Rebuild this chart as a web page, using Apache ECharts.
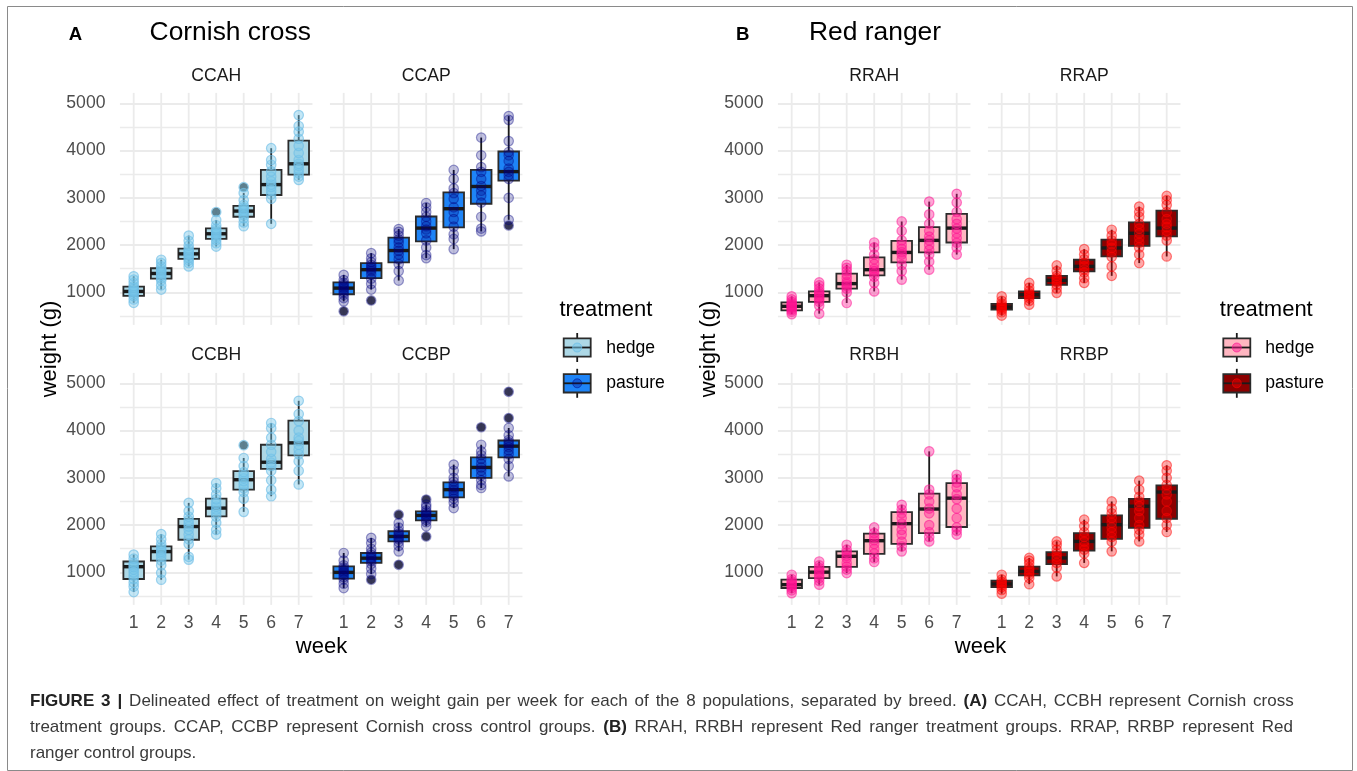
<!DOCTYPE html>
<html>
<head>
<meta charset="utf-8">
<script src="https://cdn.jsdelivr.net/npm/echarts@6/dist/echarts.min.js"></script>
<style>
  html, body { margin: 0; padding: 0; background: #ffffff; }
  #chart { width: 1357px; height: 771px; }
</style>
</head>
<body>
<div id="chart"></div>
<script>
// Week categories shared by every facet
const weeks = ['1', '2', '3', '4', '5', '6', '7'];

// Box statistics per week: [lower whisker, Q1, median, Q3, upper whisker] (g)
// Outliers: [week, weight]; points: individual bird weights per week

// ---- Cornish cross ----
const ccahBox = [
  [780, 925, 1020, 1120, 1340],
  [1060, 1290, 1400, 1510, 1690],
  [1550, 1710, 1815, 1925, 2200],
  [1970, 2130, 2240, 2355, 2530],
  [2400, 2600, 2720, 2830, 3100],
  [2450, 3060, 3280, 3590, 4050],
  [3380, 3490, 3720, 4210, 4750]
];
const ccahOut = [[4, 2700], [5, 3225]];
const ccahPts = [
  [780, 850, 920, 960, 1000, 1020, 1050, 1090, 1130, 1200, 1270, 1340],
  [1060, 1150, 1250, 1300, 1350, 1390, 1420, 1460, 1500, 1550, 1620, 1690],
  [1550, 1620, 1680, 1730, 1780, 1810, 1840, 1880, 1920, 1990, 2090, 2200],
  [1970, 2040, 2110, 2160, 2200, 2240, 2270, 2310, 2350, 2420, 2530, 2700],
  [2400, 2480, 2570, 2630, 2680, 2720, 2760, 2800, 2850, 2950, 3100, 3225],
  [2450, 2980, 3070, 3150, 3230, 3280, 3350, 3450, 3560, 3700, 3800, 4050],
  [3380, 3450, 3520, 3600, 3680, 3720, 3800, 3950, 4100, 4250, 4400, 4520, 4750]
];

const ccapBox = [
  [810, 960, 1090, 1210, 1370],
  [1060, 1300, 1480, 1620, 1830],
  [1250, 1635, 1885, 2160, 2340],
  [1725, 2080, 2360, 2605, 2890],
  [1915, 2375, 2770, 3115, 3590],
  [2290, 2875, 3240, 3590, 4275],
  [2535, 3365, 3555, 3980, 4730]
];
const ccapOut = [[1, 600], [2, 830], [7, 2415]];
const ccapPts = [
  [600, 810, 880, 950, 1000, 1050, 1090, 1120, 1160, 1200, 1260, 1370],
  [830, 1060, 1180, 1290, 1380, 1450, 1490, 1530, 1580, 1640, 1720, 1830],
  [1250, 1450, 1600, 1700, 1800, 1880, 1950, 2050, 2120, 2200, 2280, 2340],
  [1725, 1790, 1950, 2100, 2250, 2330, 2400, 2500, 2600, 2700, 2800, 2890],
  [1915, 2130, 2230, 2390, 2550, 2700, 2800, 2980, 3100, 3200, 3400, 3590],
  [2290, 2350, 2600, 2900, 3050, 3150, 3250, 3400, 3550, 3650, 3900, 4275],
  [2415, 2535, 3000, 3400, 3480, 3550, 3620, 3780, 3900, 3970, 4200, 4650, 4730]
];

const ccbhBox = [
  [584, 860, 1120, 1230, 1375],
  [845, 1250, 1440, 1550, 1810],
  [1270, 1690, 1970, 2130, 2470],
  [1800, 2185, 2360, 2560, 2890],
  [2280, 2750, 2960, 3140, 3420],
  [2610, 3190, 3330, 3700, 4160],
  [2860, 3475, 3740, 4210, 4630]
];
const ccbhOut = [[5, 3690]];
const ccbhPts = [
  [584, 700, 780, 860, 930, 1000, 1060, 1110, 1150, 1200, 1290, 1375],
  [845, 990, 1150, 1250, 1330, 1400, 1440, 1480, 1530, 1600, 1700, 1810],
  [1270, 1330, 1600, 1700, 1800, 1900, 1970, 2030, 2100, 2180, 2300, 2470],
  [1800, 1900, 2050, 2180, 2260, 2330, 2390, 2460, 2550, 2650, 2780, 2890],
  [2280, 2560, 2700, 2780, 2860, 2930, 2990, 3050, 3120, 3250, 3420, 3690],
  [2610, 2750, 2950, 3150, 3250, 3320, 3400, 3550, 3700, 3850, 4050, 4160],
  [2860, 3150, 3350, 3500, 3600, 3700, 3780, 3850, 4000, 4200, 4350, 4630]
];

const ccbpBox = [
  [668, 866, 1000, 1127, 1410],
  [965, 1200, 1300, 1410, 1730],
  [1445, 1655, 1760, 1870, 2045],
  [1975, 2100, 2205, 2290, 2435],
  [2360, 2585, 2750, 2905, 3280],
  [2785, 3000, 3220, 3435, 3700],
  [3030, 3435, 3670, 3790, 4055]
];
const ccbpOut = [[2, 845], [3, 2220], [3, 1160], [4, 2540], [4, 1760], [6, 4070], [7, 4265], [7, 4820]];
const ccbpPts = [
  [668, 760, 850, 900, 950, 990, 1020, 1060, 1100, 1150, 1250, 1410],
  [845, 965, 1080, 1180, 1240, 1290, 1320, 1370, 1420, 1500, 1620, 1730],
  [1160, 1445, 1560, 1640, 1700, 1740, 1780, 1820, 1870, 1950, 2045, 2220],
  [1760, 1975, 2060, 2110, 2160, 2200, 2230, 2270, 2310, 2380, 2435, 2540],
  [2360, 2480, 2560, 2620, 2690, 2740, 2790, 2850, 2920, 3000, 3150, 3280],
  [2785, 2850, 2950, 3050, 3150, 3220, 3300, 3400, 3480, 3560, 3700, 4070],
  [3030, 3250, 3400, 3500, 3580, 3650, 3700, 3750, 3800, 3900, 4055, 4265, 4820]
];

// ---- Red ranger ----
const rrahBox = [
  [540, 620, 705, 790, 915],
  [550, 800, 930, 1020, 1210],
  [775, 1080, 1185, 1395, 1585],
  [1020, 1360, 1480, 1740, 2055],
  [1270, 1635, 1845, 2090, 2500],
  [1480, 1845, 2100, 2380, 2920],
  [1800, 2055, 2360, 2660, 3085]
];
const rrahOut = [];
const rrahPts = [
  [540, 590, 630, 660, 690, 710, 730, 760, 800, 850, 915],
  [550, 720, 800, 850, 900, 940, 980, 1020, 1080, 1150, 1210],
  [775, 1000, 1080, 1130, 1180, 1220, 1300, 1380, 1450, 1520, 1585],
  [1020, 1200, 1330, 1400, 1450, 1500, 1600, 1700, 1800, 1950, 2055],
  [1270, 1450, 1580, 1700, 1800, 1850, 1920, 2000, 2100, 2300, 2500],
  [1480, 1650, 1800, 1900, 2000, 2100, 2180, 2300, 2450, 2650, 2920],
  [1800, 1950, 2050, 2150, 2250, 2350, 2450, 2550, 2700, 2900, 3085]
];

const rrapBox = [
  [510, 635, 690, 755, 915],
  [740, 880, 950, 1020, 1200],
  [990, 1160, 1255, 1350, 1570],
  [1200, 1445, 1550, 1690, 1915],
  [1350, 1760, 1940, 2115, 2325],
  [1620, 1985, 2250, 2480, 2815],
  [1760, 2185, 2360, 2730, 3040]
];
const rrapOut = [];
const rrapPts = [
  [510, 580, 630, 660, 690, 720, 760, 820, 915],
  [740, 820, 880, 920, 950, 980, 1030, 1100, 1200],
  [990, 1080, 1160, 1220, 1260, 1300, 1350, 1450, 1570],
  [1200, 1300, 1420, 1480, 1550, 1620, 1700, 1800, 1915],
  [1350, 1550, 1750, 1850, 1940, 2020, 2100, 2200, 2325],
  [1620, 1800, 1950, 2050, 2150, 2250, 2350, 2450, 2600, 2700, 2815],
  [1760, 2100, 2200, 2300, 2380, 2450, 2550, 2700, 2850, 2950, 3040]
];

const rrbhBox = [
  [560, 670, 740, 845, 950],
  [740, 880, 1005, 1115, 1230],
  [985, 1115, 1340, 1445, 1585],
  [1220, 1390, 1670, 1820, 1950],
  [1445, 1605, 2030, 2275, 2430],
  [1655, 1830, 2340, 2665, 3560],
  [1800, 1960, 2570, 2890, 3065]
];
const rrbhOut = [];
const rrbhPts = [
  [560, 620, 670, 710, 740, 770, 810, 860, 950],
  [740, 820, 880, 940, 1000, 1040, 1090, 1150, 1230],
  [985, 1060, 1120, 1200, 1300, 1350, 1420, 1480, 1585],
  [1220, 1300, 1400, 1500, 1600, 1680, 1750, 1830, 1950],
  [1445, 1550, 1650, 1800, 1900, 2030, 2150, 2250, 2330, 2430],
  [1655, 1750, 1850, 2000, 2250, 2350, 2500, 2650, 2750, 3560],
  [1800, 1880, 1950, 2150, 2350, 2550, 2650, 2800, 2900, 2980, 3065]
];

const rrbpBox = [
  [550, 690, 755, 825, 950],
  [750, 935, 1020, 1120, 1305],
  [915, 1175, 1305, 1430, 1655],
  [1200, 1460, 1655, 1830, 2115],
  [1445, 1710, 2010, 2205, 2500],
  [1655, 1940, 2400, 2555, 2940],
  [1855, 2135, 2700, 2840, 3265]
];
const rrbpOut = [];
const rrbpPts = [
  [550, 630, 690, 730, 760, 800, 850, 950],
  [750, 880, 950, 1000, 1050, 1100, 1180, 1250, 1305],
  [915, 1100, 1200, 1280, 1330, 1400, 1480, 1580, 1655],
  [1200, 1400, 1480, 1560, 1650, 1750, 1850, 1980, 2115],
  [1445, 1650, 1750, 1850, 1950, 2050, 2150, 2250, 2350, 2500],
  [1655, 1800, 1900, 2000, 2150, 2300, 2400, 2500, 2600, 2750, 2940],
  [1855, 2000, 2150, 2300, 2500, 2650, 2750, 2850, 3000, 3150, 3265]
];

// ---- styling ----
const FONT = '"Liberation Sans", Arial, Helvetica, sans-serif';
const GRID_LINE = '#ebebeb';
const Y_MIN = 312, Y_MAX = 5220;
const GRID_W = 192.5, GRID_H = 232;
const ROW_TOP = [92.9, 372.9];
const COL_LEFT = [119.95, 329.95, 777.95, 987.95];

const palette = {
  ccHedge:   { fill: '#ADD8E6', pt: 'rgba(120,200,235,0.55)', ptLine: 'rgba(110,190,230,0.8)' },
  ccPasture: { fill: '#1E84F7', pt: 'rgba(0,0,128,0.30)',     ptLine: 'rgba(0,0,128,0.48)' },
  rrHedge:   { fill: '#FFB6C1', pt: 'rgba(255,20,147,0.48)',  ptLine: 'rgba(255,20,147,0.65)' },
  rrPasture: { fill: '#8B0000', pt: 'rgba(255,0,0,0.42)',     ptLine: 'rgba(255,0,0,0.6)' }
};

const panels = [
  { name: 'CCAH', box: ccahBox, out: ccahOut, pts: ccahPts, col: palette.ccHedge,   left: COL_LEFT[0], top: ROW_TOP[0], showY: true,  showX: false },
  { name: 'CCAP', box: ccapBox, out: ccapOut, pts: ccapPts, col: palette.ccPasture, left: COL_LEFT[1], top: ROW_TOP[0], showY: false, showX: false },
  { name: 'CCBH', box: ccbhBox, out: ccbhOut, pts: ccbhPts, col: palette.ccHedge,   left: COL_LEFT[0], top: ROW_TOP[1], showY: true,  showX: true },
  { name: 'CCBP', box: ccbpBox, out: ccbpOut, pts: ccbpPts, col: palette.ccPasture, left: COL_LEFT[1], top: ROW_TOP[1], showY: false, showX: true },
  { name: 'RRAH', box: rrahBox, out: rrahOut, pts: rrahPts, col: palette.rrHedge,   left: COL_LEFT[2], top: ROW_TOP[0], showY: true,  showX: false },
  { name: 'RRAP', box: rrapBox, out: rrapOut, pts: rrapPts, col: palette.rrPasture, left: COL_LEFT[3], top: ROW_TOP[0], showY: false, showX: false },
  { name: 'RRBH', box: rrbhBox, out: rrbhOut, pts: rrbhPts, col: palette.rrHedge,   left: COL_LEFT[2], top: ROW_TOP[1], showY: true,  showX: true },
  { name: 'RRBP', box: rrbpBox, out: rrbpOut, pts: rrbpPts, col: palette.rrPasture, left: COL_LEFT[3], top: ROW_TOP[1], showY: false, showX: true }
];

// vertical grid line at each week
function renderWeekLine(params, api) {
  const x = api.coord([api.value(0), Y_MIN])[0];
  const cs = params.coordSys;
  return {
    type: 'line',
    shape: { x1: x, y1: cs.y, x2: x, y2: cs.y + cs.height },
    style: { stroke: GRID_LINE, lineWidth: 1.8 }
  };
}

// ggplot-style box: plain whiskers, filled box, heavy median bar
function makeBoxRenderer(fill) {
  return function (params, api) {
    const i = api.value(0);
    const lo = api.coord([i, api.value(1)]);
    const q1 = api.coord([i, api.value(2)]);
    const md = api.coord([i, api.value(3)]);
    const q3 = api.coord([i, api.value(4)]);
    const hi = api.coord([i, api.value(5)]);
    const half = api.size([1, 0])[0] * 0.375;
    const cx = lo[0];
    return {
      type: 'group',
      children: [
        { type: 'line', shape: { x1: cx, y1: hi[1], x2: cx, y2: q3[1] }, style: { stroke: '#1a1a1a', lineWidth: 1.8 } },
        { type: 'line', shape: { x1: cx, y1: q1[1], x2: cx, y2: lo[1] }, style: { stroke: '#1a1a1a', lineWidth: 1.8 } },
        { type: 'rect', shape: { x: cx - half, y: q3[1], width: half * 2, height: q1[1] - q3[1] },
          style: { fill: fill, stroke: '#2b2b2b', lineWidth: 1.8 } },
        { type: 'line', shape: { x1: cx - half, y1: md[1], x2: cx + half, y2: md[1] }, style: { stroke: '#1a1a1a', lineWidth: 3.4 } }
      ]
    };
  };
}

const grids = [], xAxes = [], yAxes = [], series = [];

panels.forEach(function (p, k) {
  grids.push({ left: p.left, top: p.top, width: GRID_W, height: GRID_H });
  xAxes.push({
    type: 'category', gridIndex: k, data: weeks, boundaryGap: true,
    axisLine: { show: false }, axisTick: { show: false }, splitLine: { show: false },
    axisLabel: { show: p.showX, margin: 9, fontSize: 17.6, color: '#4d4d4d', fontFamily: FONT }
  });
  yAxes.push({
    type: 'value', gridIndex: k, min: Y_MIN, max: Y_MAX,
    axisLine: { show: false }, axisTick: { show: false },
    axisLabel: { show: p.showY, showMinLabel: false, showMaxLabel: false, margin: 14.5,
      fontSize: 17.6, color: '#4d4d4d', fontFamily: FONT,
      formatter: function (v) { return String(v); } },
    splitLine: { show: true, showMinLine: false, showMaxLine: false, lineStyle: { color: GRID_LINE, width: 1.8 } },
    minorTick: { show: false, splitNumber: 2 },
    minorSplitLine: { show: true, lineStyle: { color: GRID_LINE, width: 1.4 } }
  });

  series.push({
    type: 'custom', xAxisIndex: k, yAxisIndex: k, z: 1, silent: true,
    renderItem: renderWeekLine,
    encode: { x: 0, y: 1 },
    data: weeks.map(function (w, i) { return [i, Y_MIN]; })
  });
  series.push({
    type: 'custom', name: p.name, xAxisIndex: k, yAxisIndex: k, z: 2, silent: true,
    renderItem: makeBoxRenderer(p.col.fill),
    encode: { x: 0, y: [1, 2, 3, 4, 5] },
    data: p.box.map(function (b, i) { return [i].concat(b); })
  });
  series.push({
    type: 'scatter', xAxisIndex: k, yAxisIndex: k, z: 3, silent: true,
    symbol: 'circle', symbolSize: 8.5,
    itemStyle: { color: '#1c1c1c' },
    data: p.out.map(function (o) { return [o[0] - 1, o[1]]; })
  });
  const pts = [];
  p.pts.forEach(function (arr, i) { arr.forEach(function (v) { pts.push([i, v]); }); });
  series.push({
    type: 'scatter', xAxisIndex: k, yAxisIndex: k, z: 4, silent: true,
    symbol: 'circle', symbolSize: 9.5,
    itemStyle: { color: p.col.pt, borderColor: p.col.ptLine, borderWidth: 1.2 },
    data: pts
  });
});

// ---- annotations: titles, facet strips, axis titles, legends, caption ----
function txt(x, y, text, size, opts) {
  opts = opts || {};
  return {
    type: 'text', x: x, y: y, rotation: opts.rotation || 0, silent: true,
    style: {
      text: text, fontSize: size, fontFamily: FONT, fontWeight: opts.weight || 'normal',
      fill: opts.color || '#000000', textAlign: opts.align || 'center', textVerticalAlign: 'middle',
      rich: opts.rich
    }
  };
}

function legendKey(x, yc, col) {
  const cx = x + 13.5;
  return {
    type: 'group', silent: true,
    children: [
      { type: 'line', shape: { x1: cx, y1: yc - 14.5, x2: cx, y2: yc + 14.5 }, style: { stroke: '#1a1a1a', lineWidth: 1.8 } },
      { type: 'rect', shape: { x: x, y: yc - 9.2, width: 27, height: 18.4 }, style: { fill: col.fill, stroke: '#2b2b2b', lineWidth: 1.8 } },
      { type: 'line', shape: { x1: x, y1: yc, x2: x + 27, y2: yc }, style: { stroke: '#1a1a1a', lineWidth: 1.8 } },
      { type: 'circle', shape: { cx: cx, cy: yc, r: 4.5 }, style: { fill: col.pt, stroke: col.ptLine, lineWidth: 1 } }
    ]
  };
}

const stripColor = '#1a1a1a';
const graphics = [
  { type: 'rect', silent: true, shape: { x: 7.5, y: 6.5, width: 1345, height: 764 },
    style: { fill: 'none', stroke: '#8a8a8a', lineWidth: 1 } },

  txt(75.5, 35, 'A', 18.6, { weight: 'bold' }),
  txt(149.6, 32.8, 'Cornish cross', 26.4, { align: 'left' }),
  txt(742.8, 35, 'B', 18.6, { weight: 'bold' }),
  txt(809, 32.8, 'Red ranger', 26.4, { align: 'left' }),

  txt(COL_LEFT[0] + GRID_W / 2, 76.3, 'CCAH', 17.6, { color: stripColor }),
  txt(COL_LEFT[1] + GRID_W / 2, 76.3, 'CCAP', 17.6, { color: stripColor }),
  txt(COL_LEFT[0] + GRID_W / 2, 355.5, 'CCBH', 17.6, { color: stripColor }),
  txt(COL_LEFT[1] + GRID_W / 2, 355.5, 'CCBP', 17.6, { color: stripColor }),
  txt(COL_LEFT[2] + GRID_W / 2, 76.3, 'RRAH', 17.6, { color: stripColor }),
  txt(COL_LEFT[3] + GRID_W / 2, 76.3, 'RRAP', 17.6, { color: stripColor }),
  txt(COL_LEFT[2] + GRID_W / 2, 355.5, 'RRBH', 17.6, { color: stripColor }),
  txt(COL_LEFT[3] + GRID_W / 2, 355.5, 'RRBP', 17.6, { color: stripColor }),

  txt(50, 349, 'weight (g)', 22, { rotation: Math.PI / 2 }),
  txt(709, 349, 'weight (g)', 22, { rotation: Math.PI / 2 }),
  txt(321.5, 647, 'week', 22),
  txt(980.5, 647, 'week', 22),

  txt(559.4, 310, 'treatment', 22, { align: 'left' }),
  legendKey(563.7, 347.5, palette.ccHedge),
  legendKey(563.7, 383.3, palette.ccPasture),
  txt(606.2, 348, 'hedge', 17.6, { align: 'left' }),
  txt(606.2, 383.5, 'pasture', 17.6, { align: 'left' }),

  txt(1219.8, 310, 'treatment', 22, { align: 'left' }),
  legendKey(1223.3, 347.5, palette.rrHedge),
  legendKey(1223.3, 383.3, palette.rrPasture),
  txt(1265.3, 348, 'hedge', 17.6, { align: 'left' }),
  txt(1265.3, 383.5, 'pasture', 17.6, { align: 'left' })
];

// Caption: justified paragraph; bold (b) and normal (n) runs, word gaps widened
// per line (s1, s2) so the full lines span the column; the last line is ragged.
const capRich = {
  b: { fontWeight: 'bold', fontSize: 17, fontFamily: FONT, fill: '#222222' },
  n: { fontSize: 17, fontFamily: FONT, fill: '#3a3a3a' },
  s1: { fontSize: 24.8, fontFamily: FONT, fill: '#3a3a3a' },
  s2: { fontSize: 27.6, fontFamily: FONT, fill: '#3a3a3a' },
  s3: { fontSize: 17, fontFamily: FONT, fill: '#3a3a3a' }
};
const captionLines = [
  [['b', 'FIGURE 3 |'], ['n', ' Delineated effect of treatment on weight gain per week for each of the 8 populations, separated by breed. '], ['b', '(A)'], ['n', ' CCAH, CCBH represent Cornish cross']],
  [['n', 'treatment groups. CCAP, CCBP represent Cornish cross control groups. '], ['b', '(B)'], ['n', ' RRAH, RRBH represent Red ranger treatment groups. RRAP, RRBP represent Red']],
  [['n', 'ranger control groups.']]
];
function richLine(segs, gap) {
  return segs.map(function (seg) {
    return seg[1].split(' ').map(function (w) {
      return w ? '{' + seg[0] + '|' + w + '}' : '';
    }).join('{' + gap + '| }');
  }).join('');
}
[701, 727, 753].forEach(function (y, i) {
  graphics.push(txt(30, y, richLine(captionLines[i], 's' + (i + 1)), 17, { align: 'left', color: '#3a3a3a', rich: capRich }));
});

const chart = echarts.init(document.getElementById('chart'), null, { renderer: 'canvas' });
chart.setOption({
  backgroundColor: '#ffffff',
  animation: false,
  textStyle: { fontFamily: FONT },
  grid: grids,
  xAxis: xAxes,
  yAxis: yAxes,
  series: series,
  graphic: { elements: graphics }
});
</script>
</body>
</html>
